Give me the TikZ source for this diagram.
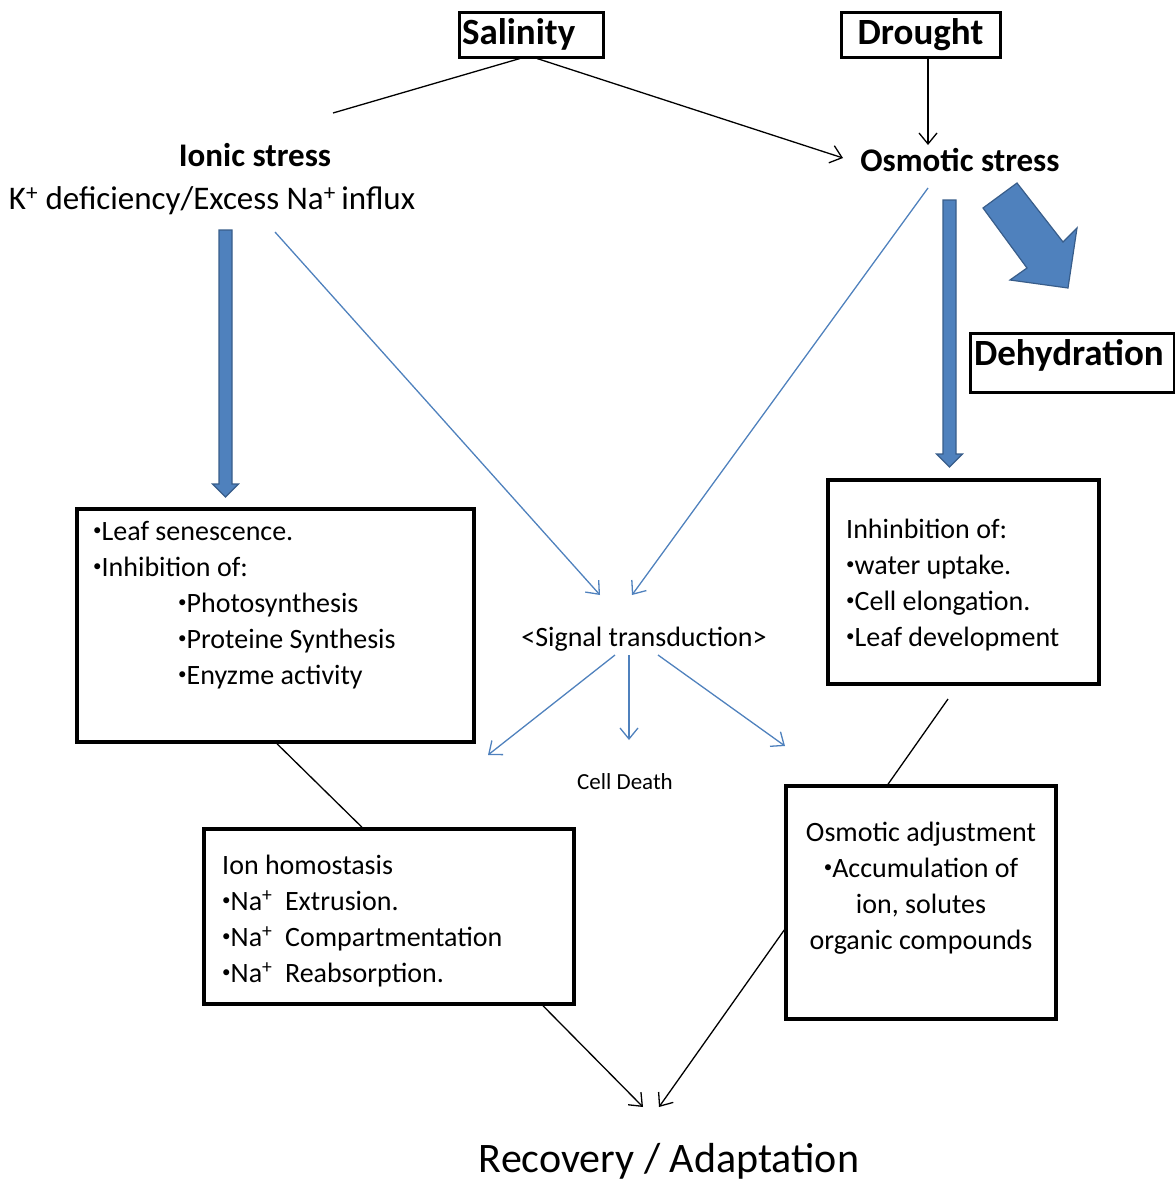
\documentclass[tikz,border=0pt]{standalone}
\usepackage{fontspec}
\setmainfont{Carlito}
\usetikzlibrary{arrows.meta}
\definecolor{sigblue}{HTML}{4F81BD}
\definecolor{rimblue}{HTML}{385D8A}
\newcommand\blt{\raisebox{0.18em}{\fontsize{17}{17}\selectfont\textbullet}}
\tikzset{
  stressbox/.style={draw,line width=3pt,inner sep=0pt,font=\bfseries\fontsize{37}{40}\selectfont},
  panel/.style={draw,line width=3.5pt,inner sep=0pt},
  paneltext/.style={anchor=north west,align=left,inner sep=0pt,font=\fontsize{28}{36}\selectfont},
  link/.style={line width=1.3pt},
  flow/.style={link,-{Straight Barb[length=11pt,width=18pt,line width=1.3pt]}},
  sigflow/.style={flow,draw=sigblue},
  fatarrow/.style={fill=sigblue,draw=rimblue,line width=1.2pt,line join=miter}
}
\begin{document}
\begin{tikzpicture}[x=1pt,y=-1pt]
  \useasboundingbox (0,0) rectangle (1175,1181);

  % stress sources
  \node (sal) at (531,34.5) [stressbox,minimum height=45,text width=138,align=left,inner xsep=3pt] {Salinity};
  \node (dro) at (920.5,34.5) [stressbox,minimum width=159,minimum height=45] {Drought};
  \node (dehy) at (1072,362.5) [stressbox,minimum height=59,text width=196,align=left,inner xsep=4pt,text depth=21pt] {Dehydration};

  \node (ionic) at (255,155) [font=\bfseries\fontsize{33}{36}\selectfont] {Ionic stress};
  \node (kna) at (212,201) [font=\fontsize{33}{36}\selectfont] {K\textsuperscript{+} deficiency/Excess Na\textsuperscript{+}\,influx};
  \node (osm) at (960,160) [font=\bfseries\fontsize{33}{36}\selectfont] {Osmotic stress};

  % effect boxes
  \node (lbox) at (275.5,625.5) [panel,minimum width=397,minimum height=233] {};
  \node at (93,521) [paneltext] {\blt Leaf senescence.\\
    \blt Inhibition of:\\
    \hspace*{85pt}\blt Photosynthesis\\
    \hspace*{85pt}\blt Proteine Synthesis\\
    \hspace*{85pt}\blt Enyzme activity};

  \node (rbox) at (963.5,582) [panel,minimum width=271,minimum height=204] {};
  \node at (846,519) [paneltext] {Inhinbition of:\\
    \blt water uptake.\\
    \blt Cell elongation.\\
    \blt Leaf development};

  \node (ionbox) at (389,916.5) [panel,minimum width=370,minimum height=175] {};
  \node at (222,855) [paneltext] {Ion homostasis\\
    \blt Na\textsuperscript{+}\ \ Extrusion.\\
    \blt Na\textsuperscript{+}\ \ Compartmentation\\
    \blt Na\textsuperscript{+}\ \ Reabsorption.};

  \node (osmbox) at (921,902.5) [panel,minimum width=270,minimum height=233] {};
  \node at (921,822) [paneltext,anchor=north,align=center] {Osmotic adjustment\\
    \blt Accumulation of\\
    ion, solutes\\
    organic compounds};

  \node (sig) at (644,639) [font=\fontsize{28}{32}\selectfont] {<Signal transduction>};
  \node (death) at (625,782) [font=\fontsize{23}{26}\selectfont] {Cell Death};
  \node (recov) at (669,1161) [font=\fontsize{42}{46}\selectfont] {Recovery / Adaptation};

  % free ends of the connectors
  \coordinate (ionic-in) at (333,113);
  \coordinate (osm-in) at (843,158);
  \coordinate (dro-in) at (928,145);
  \coordinate (ion-out) at (275,232);
  \coordinate (osm-out) at (928,188);
  \coordinate (sig-l) at (600,595);
  \coordinate (sig-r) at (632,595);
  \coordinate (rbox-out) at (948,699);
  \coordinate (rec-l) at (643,1107);
  \coordinate (rec-r) at (659,1107);

  % black connectors
  \draw[link] ([xshift=-11pt]sal.south) -- (ionic-in);
  \draw[flow] ([xshift=6pt]sal.south) -- (osm-in);
  \draw[flow] ([xshift=7.5pt]dro.south) -- (dro-in);
  \draw[link] ([xshift=1.5pt]lbox.south) -- ([xshift=-27pt]ionbox.north);
  \draw[link] (rbox-out) -- ([xshift=-33pt]osmbox.north);
  \draw[flow] ([xshift=154pt]ionbox.south) -- (rec-l);
  \draw[flow] ([yshift=-27.5pt]osmbox.west) -- (rec-r);

  % signalling
  \draw[sigflow] (ion-out) -- (sig-l);
  \draw[sigflow] (osm-out) -- (sig-r);
  \draw[sigflow] ([shift={(-29pt,-16pt)}]sig.center) -- (488,755);
  \draw[sigflow] ([shift={(-15pt,-16pt)}]sig.center) -- (629,740);
  \draw[sigflow] ([shift={(14pt,-16pt)}]sig.center) -- (785,746);

  % thick arrows
  \foreach \x/\top/\bot in {225.5/230/484, 949.5/200/454}
    \draw[fatarrow] (\x-6.5,\top) -- (\x+6.5,\top) -- (\x+6.5,\bot) -- (\x+13,\bot)
      -- (\x,\bot+13) -- (\x-13,\bot) -- (\x-6.5,\bot) -- cycle;
  \draw[fatarrow] (983,208) -- (1017,183) -- (1063,242) -- (1077,228)
    -- (1068,288) -- (1010,280) -- (1027,268) -- cycle;

\end{tikzpicture}
\end{document}
